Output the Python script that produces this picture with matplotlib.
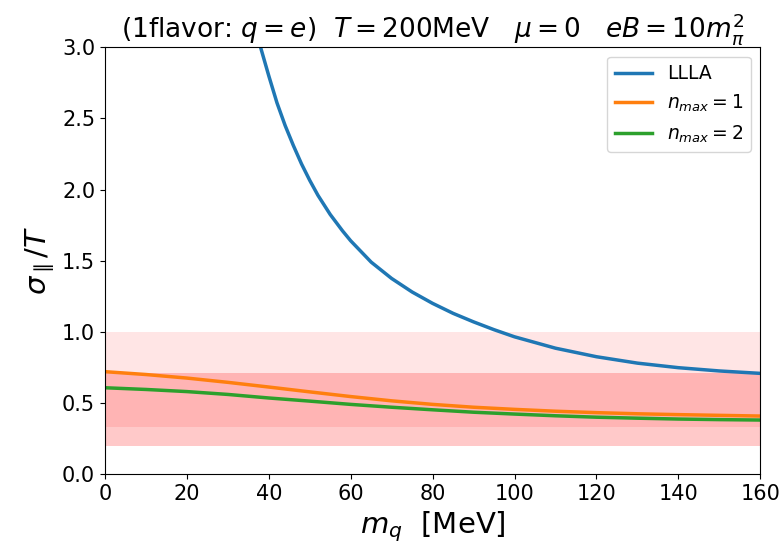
import matplotlib
matplotlib.use('Agg')
import matplotlib.pyplot as plt
import numpy as np

# LLLA curve
m_llla = [38, 40, 42, 44, 46, 48, 50, 52, 55, 58, 60, 65, 70, 75, 80, 85, 90, 95,
          100, 110, 120, 130, 140, 150, 160]
s_llla = [3.00, 2.80, 2.61, 2.45, 2.31, 2.18, 2.065, 1.96, 1.825, 1.71, 1.64, 1.49, 1.375,
          1.28, 1.20, 1.13, 1.07, 1.015, 0.965, 0.885, 0.825, 0.78, 0.748, 0.725, 0.708]

# n_max = 1 and n_max = 2
m_n = [0, 10, 20, 30, 40, 50, 60, 70, 80, 90, 100, 110, 120, 130, 140, 150, 160]
s_n1 = [0.72, 0.70, 0.675, 0.645, 0.612, 0.578, 0.545, 0.515, 0.49, 0.47, 0.455,
        0.442, 0.432, 0.424, 0.418, 0.413, 0.408]
s_n2 = [0.607, 0.595, 0.58, 0.56, 0.535, 0.513, 0.49, 0.47, 0.452, 0.435, 0.422,
        0.41, 0.40, 0.393, 0.387, 0.383, 0.38]

# shaded bands
band1 = (0.33, 1.0)
band2 = (0.2, 0.71)

fig = plt.figure(figsize=(7.83, 5.5), dpi=100)
ax = fig.add_axes([0.134, 0.138, 0.837, 0.776])

ax.axhspan(band1[0], band1[1], color='red', alpha=0.1, lw=0)
ax.axhspan(band2[0], band2[1], color='red', alpha=0.21, lw=0)

ax.plot(m_llla, s_llla, color='#1f77b4', lw=2.5, label='LLLA')
ax.plot(m_n, s_n1, color='#ff7f0e', lw=2.5, label=r'$n_{max}=1$')
ax.plot(m_n, s_n2, color='#2ca02c', lw=2.5, label=r'$n_{max}=2$')

ax.set_xlim(0, 160)
ax.set_ylim(0, 3.0)
ax.set_xticks(np.arange(0, 161, 20))
ax.set_yticks(np.arange(0, 3.01, 0.5))
ax.tick_params(labelsize=15)

ax.set_xlabel(r'$m_q$  [MeV]', fontsize=21)
ax.set_ylabel(r'$\sigma_{\parallel}/T$', fontsize=21)
ax.set_title(r'(1flavor: $q=e$)  $T=200$MeV   $\mu=0$   $eB=10m_{\pi}^2$', fontsize=19)
ax.legend(loc='upper right', fontsize=13.5)

fig.savefig('out.png', dpi=100)
